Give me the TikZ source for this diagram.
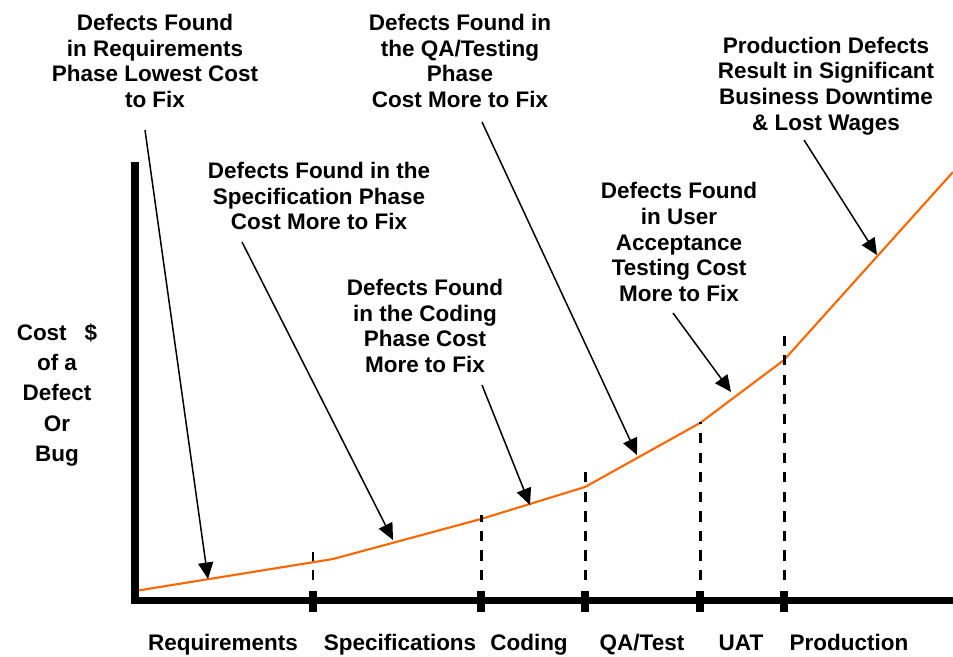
\documentclass[tikz,border=0pt]{standalone}
\usepackage{fontspec}
\setmainfont{Liberation Sans}
\usetikzlibrary{arrows.meta,calc}
\definecolor{costline}{HTML}{FF6600}
\begin{document}
\begin{tikzpicture}[x=0.02cm,y=-0.02cm,line join=round,
  txt/.style={font=\fontsize{12.8}{14.7}\selectfont\bfseries,align=center,inner sep=0pt},
  pointer/.style={line width=0.85pt,-{Triangle[length=3.3mm,width=3mm]}},
  phase/.style={line width=1.7pt,dash pattern=on 5.7pt off 5.4pt}]
\useasboundingbox (0,0) rectangle (953,656);
\coordinate (O) at (135,600.5);
\foreach \i/\p in {0/{135,591},1/{333,559},2/{481,519},3/{585,487},4/{700,423},5/{784,360},6/{953,172}}{\coordinate (c\i) at (\p);}
\draw[costline,line width=1.2pt] (c0)--(c1)--(c2)--(c3)--(c4)--(c5)--(c6);
\draw[line width=4pt,line cap=butt,line join=miter] (135,162)--(O)--(953,600.5);
\foreach \x/\t in {313/552,481/515,585/466,700/422,784/329}{
  \draw[phase] (\x,580)--(\x,\t);
  \fill (\x-4,591) rectangle (\x+4,612);}
\node[txt] (req) at (155,61) {Defects Found\\in Requirements\\Phase Lowest Cost\\to Fix};
\node[txt] (spec) at (319,196) {Defects Found in the\\Specification Phase\\Cost More to Fix};
\node[txt] (code) at (425,326) {Defects Found\\in the Coding\\Phase Cost\\More to Fix};
\node[txt] (qa) at (460,61) {Defects Found in\\the QA/Testing\\Phase\\Cost More to Fix};
\node[txt] (uat) at (679,242) {Defects Found\\in User\\Acceptance\\Testing Cost\\More to Fix};
\node[txt] (prod) at (826,86) {Production Defects\\Result in Significant\\Business Downtime\\\& Lost Wages};
\node[txt,font=\fontsize{12.8}{17.1}\selectfont\bfseries] (ylab) at (57,395) {Cost\hspace{0.8em}\$\\of a\\Defect\\Or\\Bug};
\foreach \n/\x/\t in {req/223/Requirements,spec/400/Specifications,code/529/Coding,qa/642/{QA/Test},uat/741/UAT,prod/849/Production}
  \node[txt,anchor=base] (lab\n) at (\x,650) {\t};
\foreach \n/\s/\t in {req/{145,130}/{208,579},spec/{242,242}/{393,540},code/{482,385}/{530,505},qa/{482,122}/{637,455},uat/{673,313}/{731,392},prod/{804,140}/{877,255}}{
  \coordinate (s\n) at (\s);
  \coordinate (t\n) at (\t);
  \draw[pointer] (s\n)--(t\n);}
\end{tikzpicture}
\end{document}
